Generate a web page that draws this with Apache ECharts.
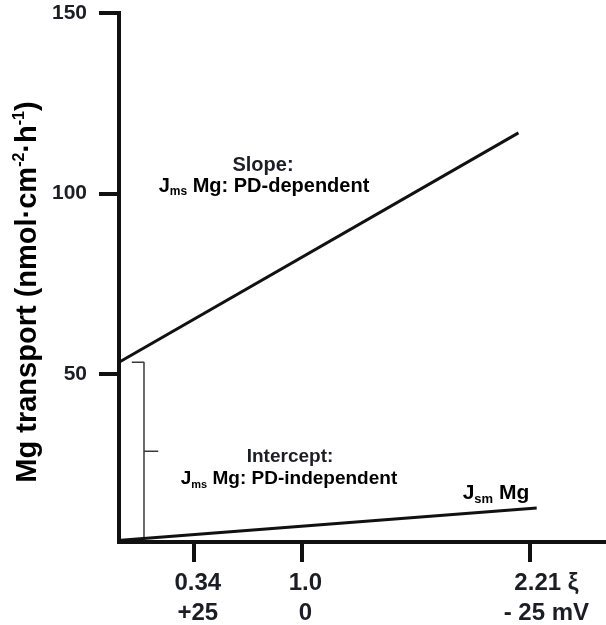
<!DOCTYPE html>
<html>
<head>
<meta charset="utf-8">
<script src="https://cdn.jsdelivr.net/npm/echarts@6/dist/echarts.min.js"></script>
<style>
  html, body { margin: 0; padding: 0; background: #ffffff; }
  #chart { width: 606px; height: 625px; }
</style>
</head>
<body>
<div id="chart"></div>
<script>
// Schematic PD axis: tick positions along the axis and their two label rows
const tickPos = [0.41, 1.0, 2.25];
const xiLabels = ['0.34', '1.0', '2.21 ξ'];
const mvLabels = ['+25', '0', '- 25 mV'];

// Transport axis ticks
const yTicks = [50, 100, 150];

// Mucosal-to-serosal flux (J_ms): intercept + PD-dependent slope
const jmsX = [0, 2.19];
const jmsY = [53.3, 116.8];

// Serosal-to-mucosal flux (J_sm)
const jsmX = [0.01, 2.29];
const jsmY = [4.0, 12.9];

const FONT = '"Liberation Sans", Arial, sans-serif';
const INK = '#1d1d26';

const chart = echarts.init(document.getElementById('chart'), null, { renderer: 'canvas' });

function pairs(xs, ys) { return xs.map((x, i) => [x, ys[i]]); }

// Bracket marking the intercept: from the J_ms intercept down to the J_sm start
const brX = 0.137, brHookX = 0.07, brTickX = 0.215;
const brTop = jmsY[0], brBottom = jsmY[0], brMid = (brTop + brBottom) / 2;

function annRich(size) {
  return {
    b: { fontFamily: FONT, fontWeight: 'bold', fontSize: size, color: INK, lineHeight: size + 4 },
    s: { fontFamily: FONT, fontWeight: 'bold', fontSize: Math.round(size * 0.6), color: INK,
         lineHeight: Math.round(size * 0.6), verticalAlign: 'bottom' }
  };
}
function plain(text, size) {
  return { text: text, fontFamily: FONT, fontWeight: 'bold', fontSize: size, fill: INK,
           align: 'center', verticalAlign: 'middle' };
}

const option = {
  animation: false,
  backgroundColor: '#ffffff',
  grid: { left: 119, right: 0, top: 13, bottom: 83, containLabel: false },
  xAxis: {
    type: 'value',
    min: 0,
    max: 2.67,
    splitLine: { show: false },
    axisLine: { show: true, onZero: false, lineStyle: { color: '#111', width: 4, cap: 'square' } },
    axisTick: { show: true, customValues: tickPos, length: 20, lineStyle: { color: '#111', width: 4 } },
    axisLabel: {
      show: true,
      customValues: tickPos,
      margin: 26,
      formatter: function (v) {
        let idx = 0, best = Infinity;
        tickPos.forEach((p, i) => { const d = Math.abs(p - v); if (d < best) { best = d; idx = i; } });
        const tag = idx === tickPos.length - 1 ? 'w' : 't';
        return '{' + tag + '|' + xiLabels[idx] + '}\n{' + tag + '|' + mvLabels[idx] + '}';
      },
      rich: {
        t: { fontFamily: FONT, fontWeight: 'bold', fontSize: 24, color: INK, lineHeight: 30, padding: [0, 0, 0, 8] },
        w: { fontFamily: FONT, fontWeight: 'bold', fontSize: 24, color: INK, lineHeight: 30, padding: [0, 0, 0, 34] }
      }
    }
  },
  yAxis: {
    type: 'value',
    min: 3.5,
    max: 150,
    splitLine: { show: false },
    axisLine: { show: true, lineStyle: { color: '#111', width: 4, cap: 'square' } },
    axisTick: { show: true, customValues: yTicks, length: 20, lineStyle: { color: '#111', width: 4 } },
    axisLabel: {
      show: true,
      customValues: yTicks,
      margin: 32,
      fontFamily: FONT,
      fontWeight: 'bold',
      fontSize: 21,
      color: INK
    }
  },
  series: [
    {
      name: 'Jms Mg',
      type: 'line',
      data: pairs(jmsX, jmsY),
      symbol: 'none',
      lineStyle: { color: '#111', width: 3 },
      z: 3
    },
    {
      name: 'Jsm Mg',
      type: 'line',
      data: pairs(jsmX, jsmY),
      symbol: 'none',
      lineStyle: { color: '#111', width: 3 },
      z: 3
    },
    {
      name: 'intercept bracket',
      type: 'line',
      data: [[brHookX, brTop], [brX, brTop], [brX, brBottom]],
      symbol: 'none',
      lineStyle: { color: '#3a3a3a', width: 1.5 },
      z: 2
    },
    {
      name: 'intercept bracket mid',
      type: 'line',
      data: [[brX, brMid], [brTickX, brMid]],
      symbol: 'none',
      lineStyle: { color: '#3a3a3a', width: 1.5 },
      z: 2
    }
  ],
  graphic: [
    {
      type: 'text', x: 28, y: 292, rotation: Math.PI / 2,
      style: {
        text: '{m|Mg transport (nmol·cm}{p|-2}{m|·h}{p|-1}{m|)}',
        align: 'center', verticalAlign: 'middle',
        rich: {
          m: { fontFamily: FONT, fontWeight: 'bold', fontSize: 29, color: INK, lineHeight: 33 },
          p: { fontFamily: FONT, fontWeight: 'bold', fontSize: 16, color: INK, lineHeight: 16, verticalAlign: 'top' }
        }
      }
    },
    { type: 'text', x: 263, y: 165, style: plain('Slope:', 20) },
    {
      type: 'text', x: 264, y: 186,
      style: { text: '{b|J}{s|ms}{b| Mg: PD-dependent}', align: 'center', verticalAlign: 'middle', rich: annRich(20) }
    },
    { type: 'text', x: 290, y: 457, style: plain('Intercept:', 19) },
    {
      type: 'text', x: 289, y: 479,
      style: { text: '{b|J}{s|ms}{b| Mg: PD-independent}', align: 'center', verticalAlign: 'middle', rich: annRich(19) }
    },
    {
      type: 'text', x: 496, y: 493,
      style: { text: '{b|J}{s|sm}{b| Mg}', align: 'center', verticalAlign: 'middle', rich: annRich(21) }
    }
  ]
};

chart.setOption(option);
</script>
</body>
</html>
